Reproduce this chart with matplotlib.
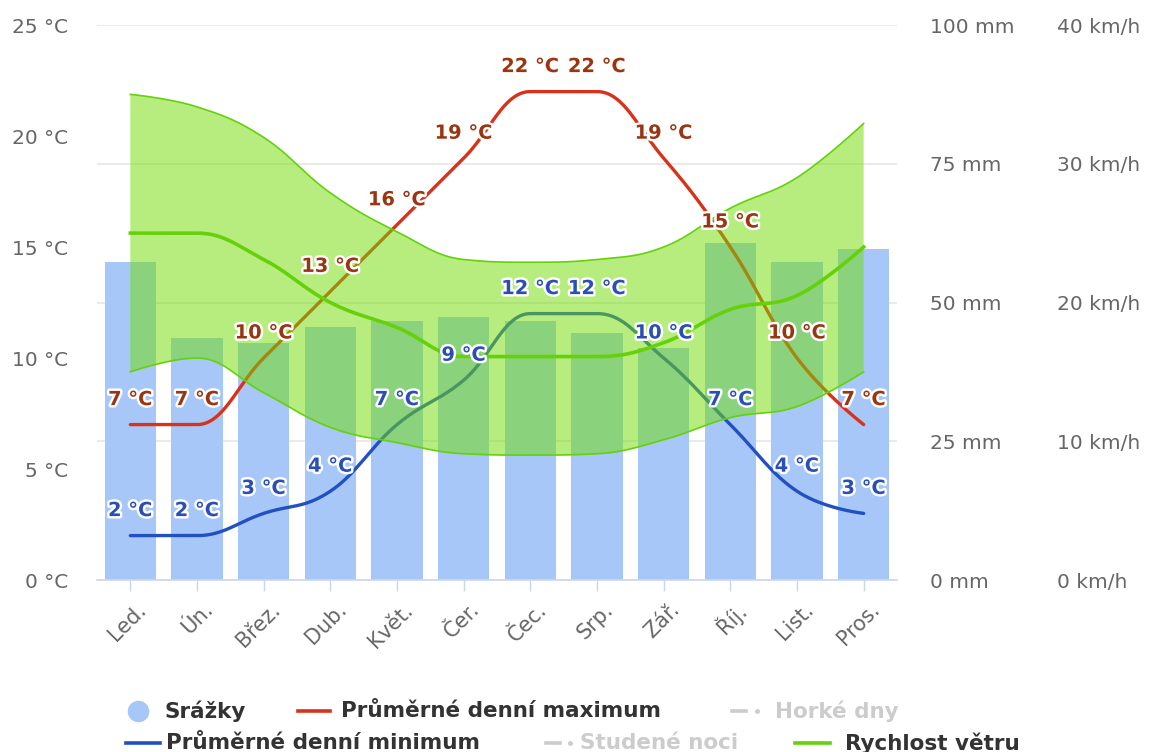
import numpy as np
import matplotlib
matplotlib.use("Agg")
import matplotlib.pyplot as plt
from matplotlib.lines import Line2D
from matplotlib.transforms import ScaledTranslation
import matplotlib.patheffects as pe

# ---- data ----
months = ["Led.", "Ún.", "Břez.", "Dub.", "Květ.", "Čer.", "Čec.", "Srp.", "Zář.", "Říj.", "List.", "Pros."]
precip_mm = [57.3, 43.6, 42.7, 45.6, 46.7, 47.4, 46.7, 44.5, 41.8, 60.7, 57.3, 59.6]
temp_max = [7, 7, 10, 13, 16, 19, 22, 22, 19, 15, 10, 7]
temp_min = [2, 2, 3, 4, 7, 9, 12, 12, 10, 7, 4, 3]
wind_mean = [25.0, 25.0, 23.1, 20.0, 18.2, 16.1, 16.1, 16.1, 17.1, 19.5, 20.5, 24.0]
wind_high = [35.0, 34.1, 31.9, 27.9, 25.1, 23.1, 22.9, 23.1, 24.0, 26.8, 29.0, 32.9]
wind_low = [15.0, 16.0, 13.5, 11.0, 9.9, 9.1, 9.0, 9.1, 10.1, 11.7, 12.5, 15.0]

temp_ticks = [0, 5, 10, 15, 20, 25]
precip_ticks = [0, 25, 50, 75, 100]
wind_ticks = [0, 10, 20, 30, 40]

# ---- colours ----
BAR = "#a7c7f9"
RED = "#d9321a"
RED_TXT = "#9a3512"
BLUE = "#2350c0"
BLUE_TXT = "#2a4eb5"
GREEN = "#66d10a"
BAND = "#71dd00"
GRID = "#e6e6e6"
AXIS = "#ccd6eb"
TICK_TXT = "#666666"


def smooth(xs, ys, k=1.5, n=40):
    """Cubic spline through the points with flat tangents at local extremes."""
    xs = np.asarray(xs, float)
    ys = np.asarray(ys, float)
    N = len(xs)
    left = [None] * N
    right = [None] * N
    d = k + 1
    for i in range(1, N - 1):
        px, py = xs[i], ys[i]
        lx, ly = xs[i - 1], ys[i - 1]
        nx, ny = xs[i + 1], ys[i + 1]
        lcx, lcy = (k * px + lx) / d, (k * py + ly) / d
        rcx, rcy = (k * px + nx) / d, (k * py + ny) / d
        corr = (rcy - lcy) * (rcx - px) / (rcx - lcx) + py - rcy
        lcy += corr
        rcy += corr
        if lcy > ly and lcy > py:
            lcy = max(ly, py); rcy = 2 * py - lcy
        elif lcy < ly and lcy < py:
            lcy = min(ly, py); rcy = 2 * py - lcy
        if rcy > ny and rcy > py:
            rcy = max(ny, py); lcy = 2 * py - rcy
        elif rcy < ny and rcy < py:
            rcy = min(ny, py); lcy = 2 * py - rcy
        left[i] = (lcx, lcy)
        right[i] = (rcx, rcy)
    t = np.linspace(0, 1, n)[1:]
    ox, oy = [xs[0]], [ys[0]]
    for i in range(1, N):
        p0 = (xs[i - 1], ys[i - 1])
        p3 = (xs[i], ys[i])
        p1 = right[i - 1] if right[i - 1] is not None else p0
        p2 = left[i] if left[i] is not None else p3
        a = (1 - t) ** 3
        b = 3 * (1 - t) ** 2 * t
        c = 3 * (1 - t) * t ** 2
        e = t ** 3
        ox.extend(a * p0[0] + b * p1[0] + c * p2[0] + e * p3[0])
        oy.extend(a * p0[1] + b * p1[1] + c * p2[1] + e * p3[1])
    return np.array(ox), np.array(oy)


W, H = 1149, 752
fig = plt.figure(figsize=(W / 100, H / 100), dpi=100)
fig.patch.set_facecolor("white")

rect = [97 / W, 1 - 580 / H, 800 / W, 555 / H]
ax = fig.add_axes(rect)            # temperature (lines)
ax_p = ax.twinx()                  # precipitation (bars)
ax_w = ax.twinx()                  # wind (band + line)
ax_l = ax.twinx()                  # temperature labels on top

ax_p.set_zorder(1)
ax.set_zorder(2)
ax_w.set_zorder(3)
ax_l.set_zorder(4)
for a in (ax, ax_p, ax_w, ax_l):
    a.patch.set_visible(False)
    for s in a.spines.values():
        s.set_visible(False)

x = np.arange(len(months))
ax.set_xlim(-0.5, len(months) - 0.5)
ax.set_ylim(0, 25)
ax_l.set_ylim(0, 25)
ax_p.set_ylim(0, 100)
ax_w.set_ylim(0, 40)

# grid + precipitation bars
ax_p.set_axisbelow(True)
ax_p.set_yticks(precip_ticks)
ax_p.yaxis.grid(True, color=GRID, lw=1.2)
ax_p.bar(x, precip_mm, width=0.77, color=BAR, zorder=2)

# temperature lines
sx, sy = smooth(x, temp_max)
ax.plot(sx, sy, color=RED, lw=2.4, solid_capstyle="round")
sx, sy = smooth(x, temp_min)
ax.plot(sx, sy, color=BLUE, lw=2.4, solid_capstyle="round")

# wind range band + mean line
hx, hy = smooth(x, wind_high)
lx, ly = smooth(x, wind_low)
ax_w.fill(np.concatenate([hx, lx[::-1]]), np.concatenate([hy, ly[::-1]]),
          color=BAND, alpha=0.5, lw=0)
ax_w.plot(hx, hy, color=GREEN, lw=1.2)
ax_w.plot(lx, ly, color=GREEN, lw=1.2)
mx, my = smooth(x, wind_mean)
ax_w.plot(mx, my, color=GREEN, lw=2.6)

# data labels
halo = [pe.withStroke(linewidth=3.5, foreground="white")]
for xi, v in zip(x, temp_max):
    ax_l.annotate(f"{v} °C", (xi, v), xytext=(0, 18), textcoords="offset points",
                  ha="center", va="center", fontsize=14, fontweight="bold",
                  color=RED_TXT, path_effects=halo)
for xi, v in zip(x, temp_min):
    ax_l.annotate(f"{v} °C", (xi, v), xytext=(0, 18), textcoords="offset points",
                  ha="center", va="center", fontsize=14, fontweight="bold",
                  color=BLUE_TXT, path_effects=halo)

# axes ticks and labels
ax.set_yticks(temp_ticks)
ax.set_yticklabels([f"{v} °C" for v in temp_ticks])
ax.tick_params(axis="y", length=0, pad=21, labelsize=14.5, labelcolor=TICK_TXT)

ax_p.set_yticklabels([f"{v} mm" for v in precip_ticks])
ax_p.tick_params(axis="y", length=0, pad=24, labelsize=14.5, labelcolor=TICK_TXT)

ax_w.set_yticks(wind_ticks)
ax_w.set_yticklabels([f"{v} km/h" for v in wind_ticks])
ax_w.tick_params(axis="y", length=0, pad=115, labelsize=14.5, labelcolor=TICK_TXT)
ax_l.set_yticks([])

ax.spines["bottom"].set_visible(True)
ax.spines["bottom"].set_color(AXIS)
ax.spines["bottom"].set_linewidth(1.2)
ax.set_xticks(x)
ax.set_xticklabels(months, rotation=45, ha="right", va="center", rotation_mode="anchor")
ax.tick_params(axis="x", length=8, width=1, color=AXIS, pad=11,
               labelsize=15, labelcolor=TICK_TXT)
shift = ScaledTranslation(13 / 100, 0, fig.dpi_scale_trans)
for lab in ax.get_xticklabels():
    lab.set_transform(lab.get_transform() + shift)

# legend
def fx(px):
    return px / W


def fy(py):
    return 1 - py / H


LEG_FONT = dict(fontsize=15.5, fontweight="bold", va="center", ha="left")
r1, r2 = 711, 743
fig.lines.append(Line2D([fx(138)], [fy(r1)], transform=fig.transFigure, marker="o",
                        ms=14.5, color=BAR, lw=0))
fig.text(fx(165), fy(r1), "Srážky", color="#333333", **LEG_FONT)
fig.lines.append(Line2D([fx(298), fx(330)], [fy(r1), fy(r1)], transform=fig.transFigure,
                        color=RED, lw=2.6))
fig.text(fx(341), fy(r1), "Průměrné denní maximum", color="#333333", **LEG_FONT)
fig.lines.append(Line2D([fx(732), fx(746)], [fy(r1), fy(r1)], transform=fig.transFigure,
                        color="#cccccc", lw=2.6))
fig.lines.append(Line2D([fx(757)], [fy(r1)], transform=fig.transFigure, marker="o",
                        ms=2.5, color="#cccccc", lw=0))
fig.text(fx(775), fy(r1), "Horké dny", color="#cccccc", **LEG_FONT)

fig.lines.append(Line2D([fx(126), fx(160)], [fy(r2), fy(r2)], transform=fig.transFigure,
                        color=BLUE, lw=2.6))
fig.text(fx(166), fy(r2), "Průměrné denní minimum", color="#333333", **LEG_FONT)
fig.lines.append(Line2D([fx(546), fx(560)], [fy(r2), fy(r2)], transform=fig.transFigure,
                        color="#cccccc", lw=2.6))
fig.lines.append(Line2D([fx(570)], [fy(r2)], transform=fig.transFigure, marker="o",
                        ms=2.5, color="#cccccc", lw=0))
fig.text(fx(580), fy(r2), "Studené noci", color="#cccccc", **LEG_FONT)
fig.lines.append(Line2D([fx(795), fx(830)], [fy(r2), fy(r2)], transform=fig.transFigure,
                        color=GREEN, lw=2.6))
fig.text(fx(845), fy(r2), "Rychlost větru", color="#333333", **LEG_FONT)

fig.savefig("out.png", dpi=100, facecolor="white")
